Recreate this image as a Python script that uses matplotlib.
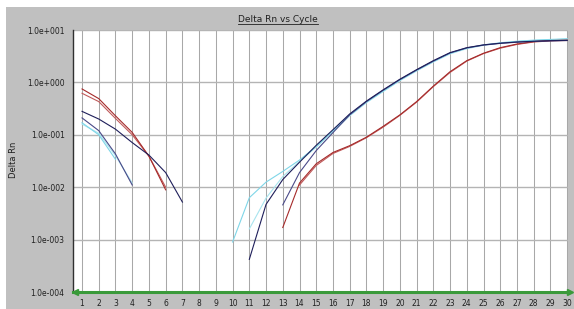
import numpy as np
import matplotlib
matplotlib.use("Agg")
import matplotlib.pyplot as plt
from matplotlib.patches import Rectangle
from matplotlib.lines import Line2D

N = None
cycles = list(range(1, 31))

# Delta Rn per cycle (None = not shown on log scale)
red_a = [0.75, 0.49, 0.23, 0.111, 0.039, 0.0089, N, N, N, N, N, N,
         0.0017, 0.012, 0.028, 0.046, 0.062, 0.09, 0.145, 0.24, 0.43, 0.85,
         1.6, 2.6, 3.6, 4.6, 5.4, 6.0, 6.3, 6.4]
red_b = [0.62, 0.43, 0.205, 0.10, 0.039, 0.010, N, N, N, N, N, N,
         N, 0.011, 0.026, 0.044, 0.060, 0.088, 0.14, 0.235, 0.42, 0.83,
         1.55, 2.55, 3.55, 4.5, 5.3, 5.9, 6.2, 6.3]
navy_a = [0.28, 0.20, 0.128, 0.071, 0.041, 0.019, 0.0052, N, N, N,
          0.00042, 0.0047, 0.014, 0.030, 0.063, 0.125, 0.25, 0.44, 0.72, 1.15,
          1.75, 2.6, 3.7, 4.6, 5.2, 5.6, 5.9, 6.1, 6.25, 6.35]
navy_b = [0.21, 0.12, 0.043, 0.011, N, N, N, N, N, N,
          N, N, 0.0046, 0.019, 0.050, 0.11, 0.24, 0.43, 0.71, 1.13,
          1.72, 2.55, 3.65, 4.55, 5.15, 5.55, 5.85, 6.05, 6.2, 6.3]
cyan_a = [0.17, 0.10, 0.034, N, N, N, N, N, N, 0.0009,
          0.0063, 0.0125, 0.020, 0.033, 0.060, 0.12, 0.24, 0.42, 0.68, 1.10,
          1.70, 2.5, 3.6, 4.5, 5.2, 5.7, 6.1, 6.4, 6.6, 6.8]
cyan_b = [0.16, 0.107, 0.040, 0.012, N, N, N, N, N, N,
          0.0016, 0.0062, 0.016, 0.031, 0.058, 0.115, 0.23, 0.41, 0.67, 1.08,
          1.65, 2.45, 3.5, 4.4, 5.1, 5.6, 6.0, 6.3, 6.5, 6.7]

series = [
    (cyan_b, "#a8e4ee"),
    (cyan_a, "#7fd6e8"),
    (red_b, "#c05a5a"),
    (red_a, "#a52a2a"),
    (navy_b, "#4a4a88"),
    (navy_a, "#1e1e5a"),
]

ytick_vals = [1e-4, 1e-3, 1e-2, 1e-1, 1e0, 1e1]
ytick_labels = ["1.0e-004", "1.0e-003", "1.0e-002", "1.0e-001", "1.0e+000", "1.0e+001"]

W, H = 574, 309
fig = plt.figure(figsize=(W / 100, H / 100), dpi=100, facecolor="white")
fig.patches.append(Rectangle((6 / W, 0), 1 - 6 / W, 1 - 7 / H, transform=fig.transFigure,
                             facecolor="#c0c0c0", edgecolor="none", zorder=-10))

ax = fig.add_axes([73 / W, (H - 292) / H, (568 - 73) / W, (292 - 30) / H])
ax.set_facecolor("white")
ax.set_yscale("log")
ax.set_xlim(0.46, 30.05)
ax.set_ylim(1e-4, 1e1)

for c in cycles:
    ax.axvline(c, color="#a8a8a8", lw=0.75, zorder=1)
for v in ytick_vals[1:]:
    ax.axhline(v, color="#b4b4b4", lw=1.0, zorder=1)

for vals, col in series:
    y = np.array([np.nan if v is None else v for v in vals], dtype=float)
    ax.plot(cycles, y, color=col, lw=0.8, zorder=3)

# green baseline with arrows
ax.plot([0.46, 30.05], [1e-4, 1e-4], color="#3a9a3a", lw=2.2, zorder=4, clip_on=False)
ax.plot([0.55], [1e-4], marker="<", color="#3a9a3a", ms=4, zorder=5, clip_on=False)
ax.plot([30.15], [1e-4], marker=">", color="#3a9a3a", ms=4, zorder=5, clip_on=False)

for s in ["top", "right", "bottom"]:
    ax.spines[s].set_visible(False)
ax.spines["left"].set_color("#303030")
ax.spines["left"].set_linewidth(1.0)

ax.set_yticks(ytick_vals)
ax.set_yticklabels(ytick_labels)
ax.yaxis.set_minor_locator(matplotlib.ticker.NullLocator())
ax.set_xticks(cycles)
ax.set_xticklabels([str(c) for c in cycles])
ax.tick_params(axis="both", length=0, labelsize=5.5, colors="#202020")
ax.tick_params(axis="y", pad=6)
ax.tick_params(axis="x", pad=5)

fig.text(14 / W, 1 - 160 / H, "Delta Rn", rotation=90, ha="center", va="center",
         fontsize=6, color="#202020")

t = fig.text(278 / W, 1 - 19 / H, "Delta Rn vs Cycle", ha="center", va="center",
             fontsize=6.5, color="#202020")
fig.canvas.draw()
bb = t.get_window_extent(fig.canvas.get_renderer())
fig.lines.append(Line2D([bb.x0 / W, bb.x1 / W], [(bb.y0 - 0.5) / H, (bb.y0 - 0.5) / H],
                        transform=fig.transFigure, color="#202020", lw=0.6))

fig.savefig("out.png", dpi=100, facecolor="white")
